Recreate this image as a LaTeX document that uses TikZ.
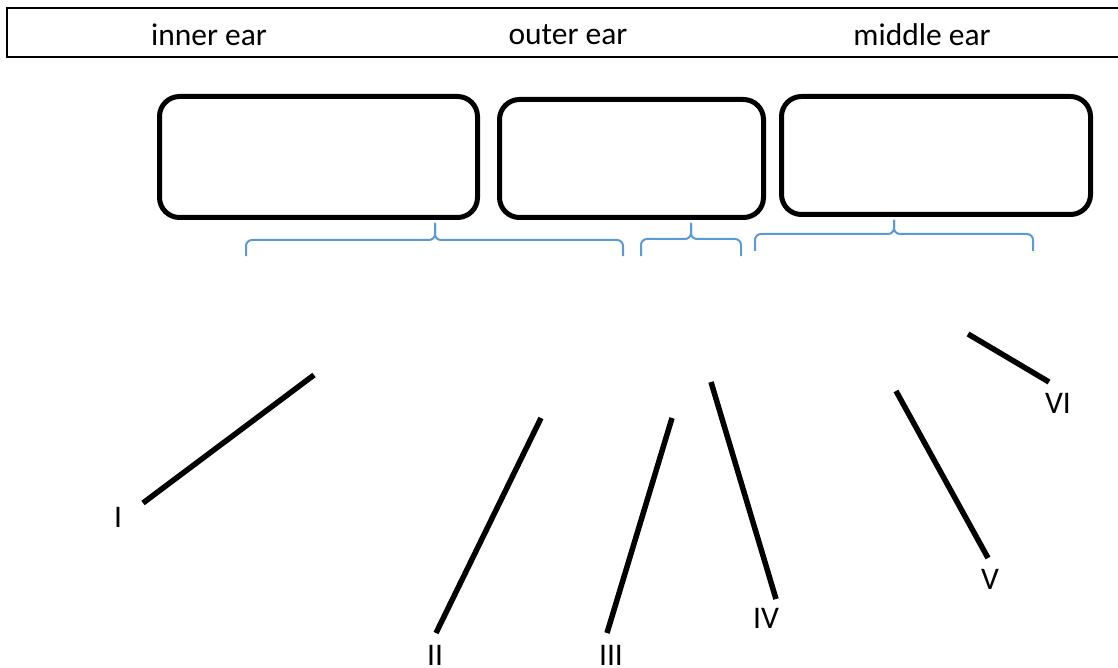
\documentclass[tikz,border=0pt]{standalone}
\usepackage{fontspec}
\setmainfont{Carlito}
\begin{document}
\begin{tikzpicture}[x=1pt,y=-1pt,
  bigbox/.style={draw=black, line width=5pt, rounded corners=20pt, inner sep=0pt, outer sep=0pt},
  lbl/.style={font=\fontsize{31.5}{38}\selectfont, inner sep=0pt},
  lead/.style={line width=5.5pt, black},
  brc/.style={draw={rgb,255:red,91;green,155;blue,213}, line width=2pt, rounded corners=6pt}]
\useasboundingbox (0,0) rectangle (1118,668);
% header bar
\draw[line width=2.5pt] (1125,8) -- (7,8) -- (7,57) -- (1125,57);
\node[lbl] (hin) at (209,35) {inner ear};
\node[lbl] (hout) at (568,35) {outer ear};
\node[lbl] (hmid) at (922,35) {middle ear};
% boxes
\node[bigbox, minimum width=318pt, minimum height=121pt] (b1) at (318.5,157) {};
\node[bigbox, minimum width=264pt, minimum height=118pt] (b2) at (631.5,158.5) {};
\node[bigbox, minimum width=309pt, minimum height=118pt] (b3) at (936,155.5) {};
% braces
\coordinate (t1) at (435,223);
\coordinate (t2) at (691,223);
\coordinate (t3) at (894,220);
\draw[brc] (246,256) -- (246,240) -- (435,240) -- (t1);
\draw[brc] (623,256) -- (623,240) -- (435,240) -- (t1);
\draw[brc] (641,256) -- (641,239) -- (691,239) -- (t2);
\draw[brc] (741,256) -- (741,239) -- (691,239) -- (t2);
\draw[brc] (755,251) -- (755,234) -- (894,234) -- (t3);
\draw[brc] (1033,251) -- (1033,234) -- (894,234) -- (t3);
% leader lines and labels
\node[lbl] (l1) at (118,517) {I};
\node[lbl] (l2) at (435,655.5) {II};
\node[lbl] (l3) at (611,655.5) {III};
\node[lbl] (l4) at (766,618) {IV};
\node[lbl] (l5) at (990,579) {V};
\node[lbl] (l6) at (1058,403) {VI};
\coordinate (s1) at (143,503); \coordinate (e1) at (314,375);
\coordinate (s2) at (436,633); \coordinate (e2) at (541,418);
\coordinate (s3) at (607,633); \coordinate (e3) at (672,418);
\coordinate (s4) at (776,599); \coordinate (e4) at (711,382);
\coordinate (s5) at (988,558); \coordinate (e5) at (896,391);
\coordinate (s6) at (1049,382); \coordinate (e6) at (968,334);
\draw[lead] (s1) -- (e1);
\draw[lead] (s2) -- (e2);
\draw[lead] (s3) -- (e3);
\draw[lead] (s4) -- (e4);
\draw[lead] (s5) -- (e5);
\draw[lead] (s6) -- (e6);
\end{tikzpicture}
\end{document}
